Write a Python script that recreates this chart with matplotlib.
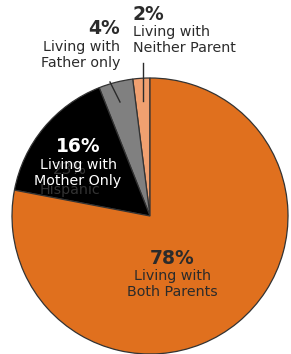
import matplotlib
matplotlib.use("Agg")
import matplotlib.pyplot as plt

# living arrangements, counterclockwise from 12 o'clock
labels = ["Living with\nNeither Parent", "Living with\nFather only",
          "Living with\nMother Only", "Living with\nBoth Parents"]
shares = [2, 4, 16, 78]
colors = ["#F0A070", "#808080", "#000000", "#E0701E"]

plt.rcParams['font.family'] = ['DejaVu Sans']

fig = plt.figure(figsize=(2.91, 3.54), dpi=100)
ax = fig.add_axes([0, 0, 1, 1])

H = 354
ax.pie(shares, colors=colors, startangle=90, counterclock=True,
       center=(150, H - 216), radius=138,
       wedgeprops=dict(edgecolor="#333333", linewidth=0.9))

# pie() resets the limits, so set them afterwards
ax.set_xlim(0, 291)
ax.set_ylim(0, 354)
ax.set_aspect('equal')
ax.axis('off')

dark = "#2b2b2b"


def label(x, y, pct, text, color, ha="center"):
    ax.text(x, H - y, f"{pct}%", ha=ha, va="center", fontsize=13.5,
            fontweight="bold", color=color)
    for i, line in enumerate(text.split("\n")):
        ax.text(x, H - (y + 18 + 16 * i), line, ha=ha, va="center",
                fontsize=10.3, color=color)


# faint leftover text in the black wedge
ax.text(70, H - 169, "23%", ha="center", va="center", fontsize=11,
        color="#333333")
ax.text(70, H - 190, "Hispanic", ha="center", va="center", fontsize=10.3,
        color="#333333")

label(172, 258, shares[3], labels[3], dark)
label(78, 147, shares[2], labels[2], "white")
label(120, 29, shares[1], labels[1], dark, ha="right")
label(133, 14, shares[0], labels[0], dark, ha="left")

# leader lines
ax.plot([110, 120], [H - 82, H - 102], color=dark, lw=1)
ax.plot([143, 143], [H - 63, H - 101], color=dark, lw=1)

fig.savefig("out.png", dpi=100)
